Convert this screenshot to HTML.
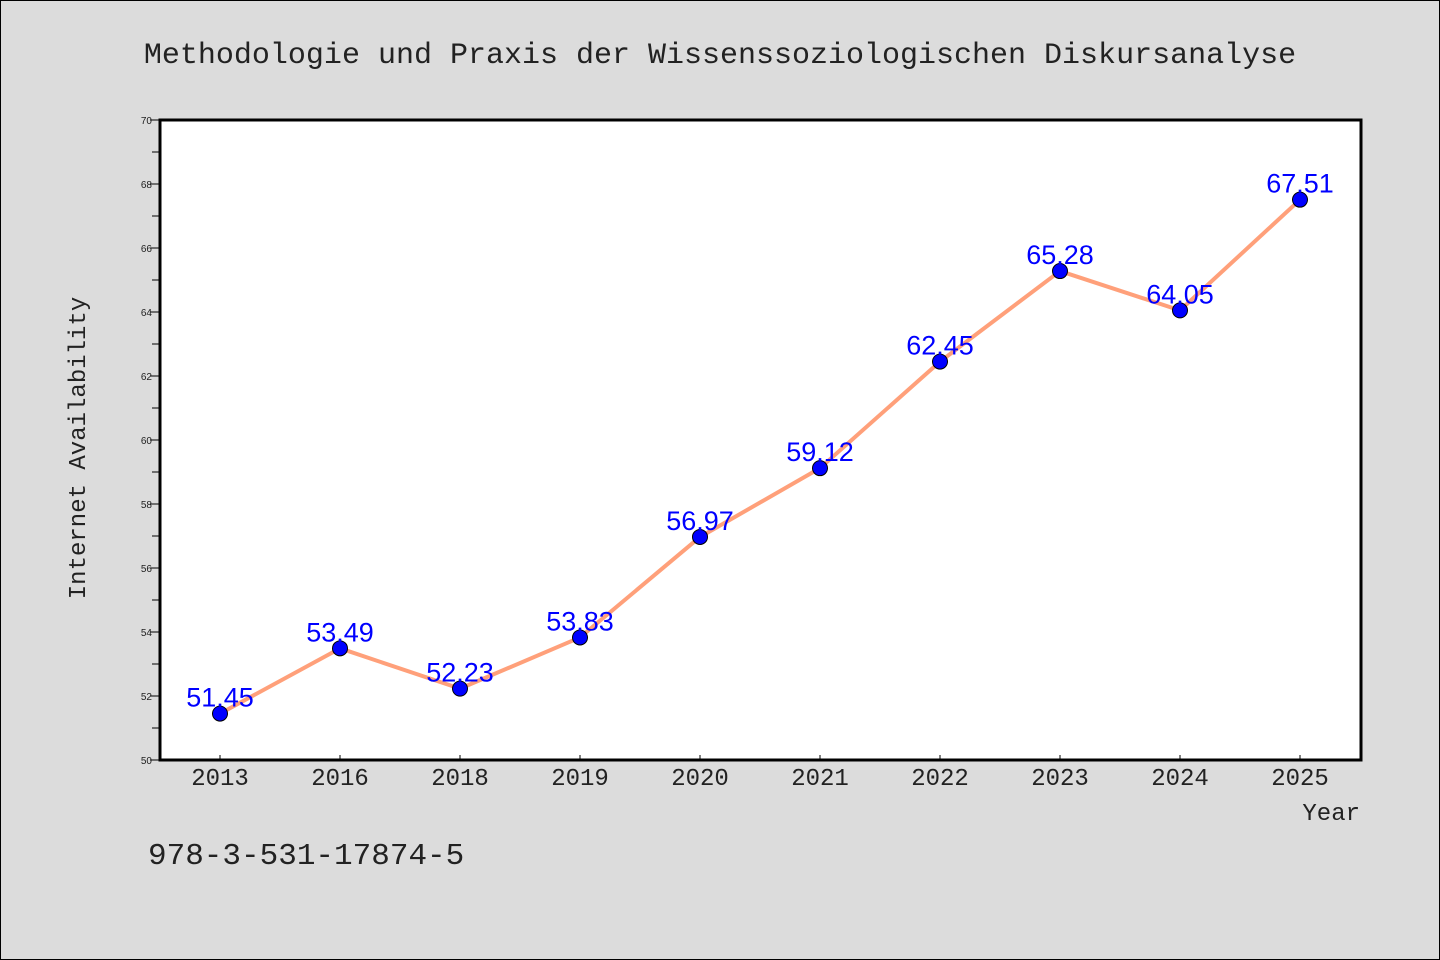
<!DOCTYPE html>
<html><head><meta charset="utf-8"><style>
body{margin:0;background:#dcdcdc;}
svg{display:block;}
.mono{font-family:"WenQuanYi Zen Hei Mono","Liberation Mono",monospace;}
</style></head><body>
<svg id="chart" width="1440" height="960" xmlns="http://www.w3.org/2000/svg">
<rect x="0.5" y="0.5" width="1439" height="959" fill="#dcdcdc" stroke="#000"/>
<text class="mono" x="720" y="63" font-size="30" text-anchor="middle" fill="#222">Methodologie und Praxis der Wissenssoziologischen Diskursanalyse</text>
<rect x="160" y="120" width="1201" height="640" fill="#fff"/>
<text class="mono" transform="translate(85,448) rotate(-90)" font-size="24" text-anchor="middle" fill="#222">Internet Availability</text>
<text class="mono" x="1360" y="820" font-size="24" text-anchor="end" fill="#222">Year</text>
<text class="mono" x="148" y="864" font-size="31" fill="#222">978-3-531-17874-5</text>
<g id="axes"></g>
<g id="series"></g>
<rect x="160" y="120" width="1201" height="640" fill="none" stroke="#000" stroke-width="3"/>
</svg>
<script>
const categories=["2013","2016","2018","2019","2020","2021","2022","2023","2024","2025"];
const values=[51.45,53.49,52.23,53.83,56.97,59.12,62.45,65.28,64.05,67.51];
const yTicks=[50,52,54,56,58,60,62,64,66,68,70];
const yMin=50,yMax=70,plotLeft=160,plotTop=120,plotW=1201,plotH=640;
const NS="http://www.w3.org/2000/svg";
function xPos(i){return 220+i*120;}
function yPos(v){return plotTop+plotH-(v-yMin)/(yMax-yMin)*plotH;}
function mk(t,a,p){const e=document.createElementNS(NS,t);for(const k in a)e.setAttribute(k,a[k]);p.appendChild(e);return e;}
const ax=document.getElementById('axes'),se=document.getElementById('series');
for(let v=yMin;v<=yMax;v++){
 const l=mk('line',{x1:v%2?152:150,x2:plotLeft,y1:yPos(v),y2:yPos(v),stroke:'#000','stroke-width':1},ax);
 
 
}
yTicks.forEach(v=>{
 const t=mk('text',{x:152,y:yPos(v)+4,'font-size':10,'text-anchor':'end',fill:'#222','font-family':'Liberation Sans, sans-serif'},ax);
 t.textContent=v;
 
 
});
categories.forEach((c,i)=>{
 const l=mk('line',{x1:xPos(i),x2:xPos(i),y1:plotTop+plotH-5,y2:plotTop+plotH,stroke:'#000'},ax);
 
 
 const t=mk('text',{x:xPos(i),y:785,'font-size':24,'text-anchor':'middle',fill:'#222',class:'mono'},ax);
 t.textContent=c;
 
 
});
const pl=mk('polyline',{points:values.map((v,i)=>xPos(i)+','+yPos(v)).join(' '),fill:'none',stroke:'#ffa07a','stroke-width':4,'stroke-linejoin':'round'},se);


values.forEach((v,i)=>{
 const c=mk('circle',{cx:xPos(i),cy:yPos(v),r:7.5,fill:'#0000ff',stroke:'#000','stroke-width':1},se);
 
 
});
values.forEach((v,i)=>{
 const t=mk('text',{x:xPos(i),y:yPos(v)-7,'font-size':27,'text-anchor':'middle',fill:'#0000ff','font-family':'Liberation Sans, DejaVu Sans, sans-serif'},se);
 t.textContent=v.toFixed(2);
 
 
});
</script>
</body></html>
